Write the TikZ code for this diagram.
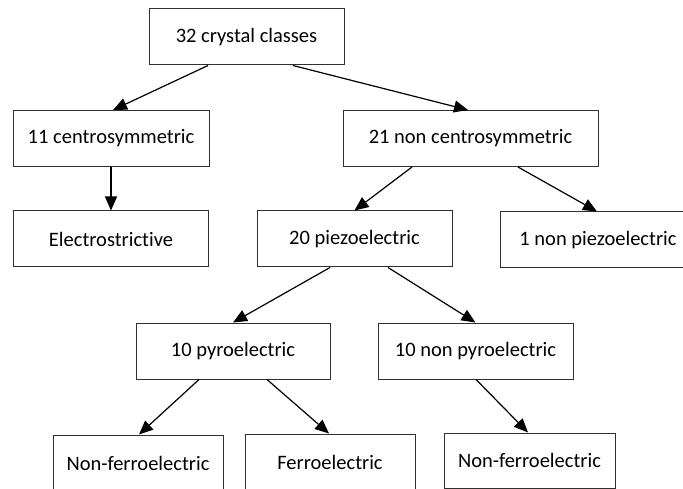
\documentclass[tikz,border=0pt]{standalone}
\usepackage{fontspec}
\setmainfont{Carlito}[Ligatures=NoCommon]
\usetikzlibrary{arrows.meta}
\newcommand{\classfont}{\fontsize{20.5}{24}\selectfont}
\definecolor{frame}{HTML}{303030}

\begin{document}
\begin{tikzpicture}[x=1pt, y=-1pt,
    crystal/.style={draw=frame, line width=1pt, inner sep=0pt, minimum height=56pt, minimum width=195pt, font=\classfont},
    split/.style={-{Triangle[length=14pt, width=12pt]}, line width=1.2pt}]
      \useasboundingbox (0,0) rectangle (683,489);

      % first split
      \node[crystal] (all) at (246.5,37) {32 crystal classes};
      \node[crystal, minimum width=196pt] (centro) at (111,138.5) {11 centrosymmetric};
      \node[crystal, minimum width=255pt] (noncentro) at (470.5,138.5) {21 non centrosymmetric};

      % second row
      \node[crystal] (electro) at (111,239) {Electrostrictive};
      \node[crystal] (piezo) at (354.5,239) {20 piezoelectric};
      \node[crystal, minimum width=196pt] (nonpiezo) at (598,240) {1 non piezoelectric};

      % pyro
      \node[crystal, minimum width=194pt] (pyro) at (233,351) {10 pyroelectric};
      \node[crystal] (nonpyro) at (475.5,351) {10 non pyroelectric};

      % ferro
      \node[crystal, minimum width=170pt] (nonferroA) at (138,463) {Non-ferroelectric};
      \node[crystal, minimum width=170pt] (ferro) at (330,462) {Ferroelectric};
      \node[crystal, minimum width=171pt, minimum height=55pt] (nonferroB) at (529.5,460.5) {Non-ferroelectric};

      % arrows
      \draw[split] ([xshift=-38.5pt]all.south) -- ([xshift=2pt]centro.north);
      \draw[split] ([xshift=46.5pt]all.south) -- ([xshift=-2.5pt]noncentro.north);
      \draw[split] (centro.south) -- (electro.north);
      \draw[split] ([xshift=-58.5pt]noncentro.south) -- (piezo.north);
      \draw[split] ([xshift=47.5pt]noncentro.south) -- ([xshift=-1pt]nonpiezo.north);
      \draw[split] ([xshift=-24.5pt]piezo.south) -- (pyro.north);
      \draw[split] ([xshift=33.5pt]piezo.south) -- (nonpyro.north);
      \draw[split] ([xshift=-34pt]pyro.south) -- ([xshift=1pt]nonferroA.north);
      \draw[split] ([xshift=34pt]pyro.south) -- ([xshift=-1pt]ferro.north);
      \draw[split] ([xshift=0.5pt]nonpyro.south) -- ([xshift=-1.5pt]nonferroB.north);
\end{tikzpicture}
\end{document}
